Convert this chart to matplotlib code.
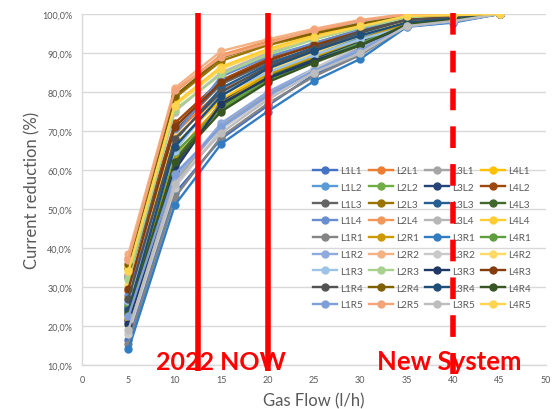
import matplotlib
matplotlib.use("Agg")
import matplotlib.pyplot as plt
from matplotlib.ticker import FuncFormatter, MultipleLocator

plt.rcParams['font.family'] = ['Lato', 'DejaVu Sans']

# Gas flow settings (l/h)
gas_flow = [5, 10, 15, 20, 25, 30, 35, 40, 45]

# Current reduction (fraction) per measurement position, grouped by line
line1 = {
    "L1L1": [0.165, 0.540, 0.680, 0.765, 0.845, 0.900, 0.968, 0.980, 1.000],
    "L1L2": [0.260, 0.655, 0.795, 0.855, 0.900, 0.940, 0.975, 0.985, 1.000],
    "L1L3": [0.325, 0.700, 0.820, 0.875, 0.910, 0.950, 0.982, 0.990, 1.000],
    "L1L4": [0.280, 0.690, 0.840, 0.890, 0.925, 0.960, 0.985, 0.992, 1.000],
    "L1R1": [0.155, 0.530, 0.685, 0.770, 0.840, 0.895, 0.970, 0.982, 1.000],
    "L1R2": [0.240, 0.580, 0.720, 0.800, 0.860, 0.910, 0.970, 0.982, 1.000],
    "L1R3": [0.265, 0.650, 0.795, 0.850, 0.895, 0.935, 0.968, 0.982, 1.000],
    "L1R4": [0.270, 0.680, 0.800, 0.865, 0.910, 0.955, 0.985, 0.990, 1.000],
    "L1R5": [0.225, 0.590, 0.710, 0.790, 0.855, 0.905, 0.968, 0.980, 1.000],
}
line2 = {
    "L2L1": [0.290, 0.695, 0.805, 0.860, 0.905, 0.948, 0.982, 0.990, 1.000],
    "L2L2": [0.245, 0.630, 0.760, 0.835, 0.885, 0.930, 0.972, 0.985, 1.000],
    "L2L3": [0.350, 0.785, 0.880, 0.920, 0.948, 0.972, 0.993, 0.997, 1.000],
    "L2L4": [0.375, 0.800, 0.895, 0.930, 0.955, 0.980, 0.998, 1.000, 1.000],
    "L2R1": [0.220, 0.640, 0.770, 0.845, 0.890, 0.935, 0.975, 0.986, 1.000],
    "L2R2": [0.385, 0.810, 0.905, 0.935, 0.962, 0.985, 1.000, 1.000, 1.000],
    "L2R3": [0.320, 0.755, 0.845, 0.895, 0.935, 0.965, 0.990, 0.995, 1.000],
    "L2R4": [0.360, 0.790, 0.888, 0.925, 0.950, 0.975, 0.995, 0.998, 1.000],
    "L2R5": [0.370, 0.805, 0.890, 0.925, 0.958, 0.983, 0.999, 1.000, 1.000],
}
line3 = {
    "L3L1": [0.210, 0.570, 0.715, 0.795, 0.855, 0.915, 0.975, 0.986, 1.000],
    "L3L2": [0.215, 0.610, 0.775, 0.840, 0.885, 0.928, 0.972, 0.985, 1.000],
    "L3L3": [0.250, 0.675, 0.810, 0.870, 0.915, 0.952, 0.980, 0.988, 1.000],
    "L3L4": [0.330, 0.750, 0.850, 0.900, 0.942, 0.980, 0.998, 0.999, 1.000],
    "L3R1": [0.140, 0.510, 0.667, 0.750, 0.828, 0.885, 0.967, 0.978, 1.000],
    "L3R2": [0.180, 0.555, 0.705, 0.785, 0.860, 0.920, 0.970, 0.984, 1.000],
    "L3R3": [0.205, 0.600, 0.770, 0.835, 0.880, 0.920, 0.970, 0.983, 1.000],
    "L3R4": [0.240, 0.660, 0.790, 0.860, 0.905, 0.945, 0.978, 0.987, 1.000],
    "L3R5": [0.190, 0.565, 0.695, 0.780, 0.850, 0.900, 0.969, 0.982, 1.000],
}
line4 = {
    "L4L1": [0.275, 0.665, 0.780, 0.850, 0.895, 0.940, 0.978, 0.988, 1.000],
    "L4L2": [0.330, 0.720, 0.830, 0.885, 0.925, 0.960, 0.988, 0.993, 1.000],
    "L4L3": [0.235, 0.625, 0.765, 0.840, 0.890, 0.935, 0.975, 0.986, 1.000],
    "L4L4": [0.355, 0.770, 0.865, 0.910, 0.945, 0.970, 0.996, 0.998, 1.000],
    "L4R1": [0.255, 0.645, 0.755, 0.830, 0.880, 0.925, 0.970, 0.984, 1.000],
    "L4R2": [0.305, 0.685, 0.790, 0.855, 0.900, 0.945, 0.980, 0.990, 1.000],
    "L4R3": [0.295, 0.710, 0.825, 0.880, 0.920, 0.955, 0.985, 0.992, 1.000],
    "L4R4": [0.230, 0.620, 0.750, 0.825, 0.875, 0.920, 0.973, 0.985, 1.000],
    "L4R5": [0.340, 0.765, 0.860, 0.905, 0.940, 0.968, 0.995, 0.997, 1.000],
}

positions = ["L1", "L2", "L3", "L4", "R1", "R2", "R3", "R4", "R5"]
groups = [("L1", line1), ("L2", line2), ("L3", line3), ("L4", line4)]

colors = {
    "L1L1": "#4472C4", "L2L1": "#ED7D31", "L3L1": "#A5A5A5", "L4L1": "#FFC000",
    "L1L2": "#5B9BD5", "L2L2": "#70AD47", "L3L2": "#264478", "L4L2": "#9E480E",
    "L1L3": "#636363", "L2L3": "#997300", "L3L3": "#255E91", "L4L3": "#43682B",
    "L1L4": "#698ED0", "L2L4": "#F1975A", "L3L4": "#B7B7B7", "L4L4": "#FFCD33",
    "L1R1": "#848484", "L2R1": "#CC9A00", "L3R1": "#327DC2", "L4R1": "#5F9E3F",
    "L1R2": "#8FAADC", "L2R2": "#F4B183", "L3R2": "#C9C9C9", "L4R2": "#FFD966",
    "L1R3": "#9DC3E6", "L2R3": "#A9D18E", "L3R3": "#1F3864", "L4R3": "#843C0C",
    "L1R4": "#525252", "L2R4": "#7F6000", "L3R4": "#1F4E79", "L4R4": "#375623",
    "L1R5": "#7F9FD9", "L2R5": "#F4A47A", "L3R5": "#BDBDBD", "L4R5": "#FFD54F",
}

W, H = 553, 410
fig = plt.figure(figsize=(W / 100, H / 100), dpi=100)
ax = fig.add_axes([82 / W, (H - 366) / H, (546 - 82) / W, (366 - 15) / H])

# Draw series row by row (position-major), later series on top
handles = {}
for pos in positions:
    for prefix, data in groups:
        name = prefix + pos
        (h,) = ax.plot(gas_flow, data[name], color=colors[name], lw=1.7,
                       marker="o", markersize=5, label=name, zorder=3)
        handles[name] = h

ax.set_xlim(0, 50)
ax.set_ylim(0.10, 1.00)
ax.xaxis.set_major_locator(MultipleLocator(5))
ax.yaxis.set_major_locator(MultipleLocator(0.10))
ax.yaxis.set_major_formatter(
    FuncFormatter(lambda v, _: f"{v * 100:.1f}%".replace(".", ",")))
ax.grid(axis="y", color="#D9D9D9", lw=1.0, zorder=0)
ax.set_axisbelow(True)
for side in ("top", "right"):
    ax.spines[side].set_visible(False)
for side in ("left", "bottom"):
    ax.spines[side].set_color("#D9D9D9")
    ax.spines[side].set_linewidth(1.0)
ax.tick_params(axis="both", length=0, labelsize=6.5, labelcolor="#595959")
ax.tick_params(axis="y", pad=7)
ax.tick_params(axis="x", pad=7)

ax.set_xlabel("Gas Flow (l/h)", fontsize=12, color="#595959", labelpad=6)
ax.set_ylabel("Current reduction (%)", fontsize=12, color="#595959", labelpad=1)

# Legend laid out row-wise: 4 columns, one per line group
legend_order = [prefix + pos for prefix, _ in groups for pos in positions]
leg = ax.legend([handles[n] for n in legend_order], legend_order,
                ncol=4, loc="upper left",
                bbox_to_anchor=(313 / W, 1 - 167 / H), bbox_transform=fig.transFigure,
                frameon=False, fontsize=7.2, labelcolor="#595959",
                handlelength=2.4, handletextpad=0.3, columnspacing=0.6,
                labelspacing=0.78, borderpad=0, borderaxespad=0)

# Milestone markers
red = "#FF0000"
for xv in (12.5, 20):
    ax.plot([xv, xv], [1.003, 0.085], color=red, lw=4.0, solid_capstyle="butt",
            clip_on=False, zorder=6)
ax.plot([40, 40], [1.003, 0.078], color=red, lw=4.0, dashes=(3.9, 2.9),
        dash_capstyle="butt", clip_on=False, zorder=6)

ax.text(15.0, 0.109, "2022 NOW", color=red, fontsize=18, fontweight="bold",
        ha="center", va="center", zorder=7)
ax.text(39.55, 0.109, "New System", color=red, fontsize=18.5, fontweight="bold",
        ha="center", va="center", zorder=7)

fig.savefig("out.png", dpi=100)
